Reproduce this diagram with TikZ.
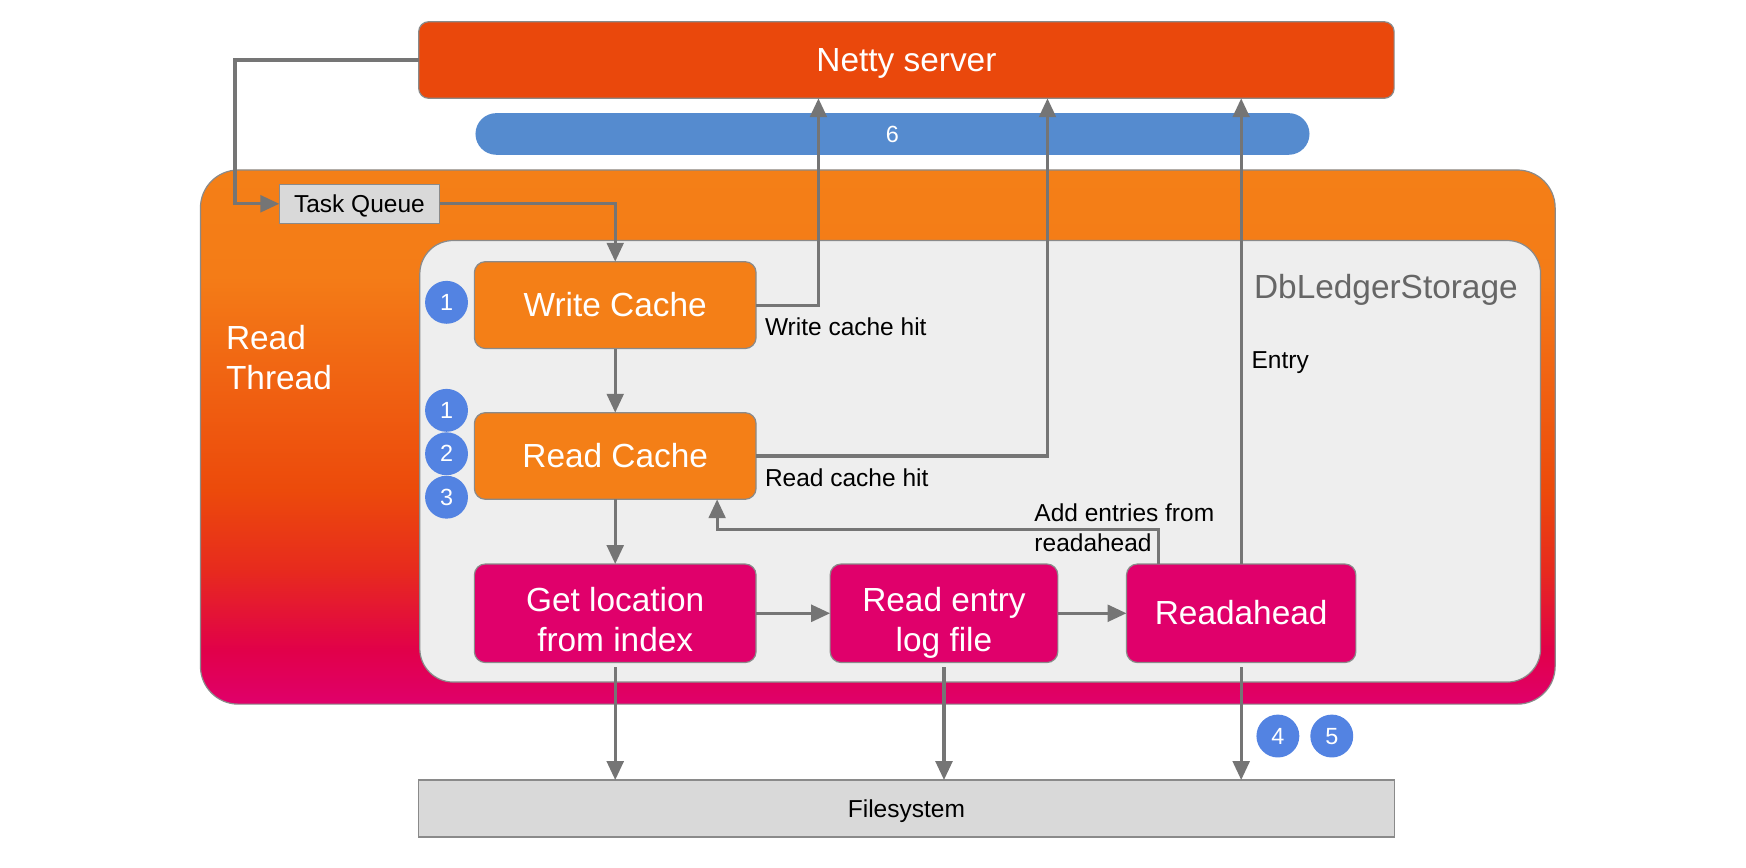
\documentclass[tikz,border=0pt]{standalone}
\usepackage{fontspec}
\setmainfont{Liberation Sans}
\usetikzlibrary{arrows.meta,calc}
\newlength\pxu
\setlength\pxu{1.11352pt}
\definecolor{netty}{HTML}{EA480C}
\definecolor{orng}{HTML}{F47F17}
\definecolor{mag}{HTML}{E0006B}
\definecolor{barc}{HTML}{558BCF}
\definecolor{circ}{HTML}{5383E2}
\definecolor{innerc}{HTML}{EEEEEE}
\definecolor{lgray}{HTML}{D9D9D9}
\definecolor{arrc}{HTML}{757575}
\definecolor{bline}{HTML}{8A8A8A}
\definecolor{dbtext}{HTML}{666666}
\definecolor{gA}{HTML}{E1004A}
\definecolor{gB}{HTML}{E72A1E}
\definecolor{gC}{HTML}{EC4A0B}
\definecolor{gD}{HTML}{F06212}
\definecolor{gE}{HTML}{F47C17}
\pgfdeclareverticalshading{rtshade}{100bp}{color(0bp)=(mag); color(25bp)=(mag); color(30bp)=(gA); color(37.5bp)=(gB); color(45bp)=(gC); color(55bp)=(gD); color(65bp)=(gE); color(75bp)=(orng); color(100bp)=(orng)}
\newcommand\fbig{\fontsize{33.4pt}{40pt}\selectfont}
\newcommand\fsm{\fontsize{24.5pt}{30.3pt}\selectfont}
\newcommand\fnum{\fontsize{23.4pt}{28pt}\selectfont}
\newcommand\gs{\rule[-0.212em]{0pt}{1.117em}}
\newcommand\gst{\rule{0pt}{1.306em}}
\tikzset{
  base/.style={inner sep=0pt, outer sep=0pt, align=center},
  cbox/.style={base, execute at begin node=\gs},
  procbox/.style={cbox, draw=bline, line width=1.2pt, rounded corners=11pt, text=white, font=\fbig},
  orangebox/.style={procbox, fill=orng},
  magbox/.style={procbox, fill=mag},
  graybox/.style={cbox, draw=bline, line width=1.2pt, fill=lgray, font=\fsm, text=black},
  numcirc/.style={cbox, circle, fill=circ, text=white, font=\fnum, minimum size=42.9pt},
  arr/.style={draw=arrc, line width=3.2pt, -{Triangle[length=18.9pt, width=16.7pt]}},
  lbl/.style={inner sep=0pt, outer sep=0pt, font=\fsm, text=black},
}
\begin{document}
\begin{tikzpicture}[x=\pxu, y={(0,-1.11352pt)}]
\useasboundingbox (0,0) rectangle (1568,779.5);
% containers
\node[base, draw=bline, line width=1.2pt, rounded corners=37.9pt, shade, shading=rtshade,
      minimum width=1216.6\pxu, minimum height=479.7\pxu] (rt) at (788.3,392.5) {};
\node[base, draw=bline, line width=1.2pt, rounded corners=33.4pt, fill=innerc,
      minimum width=1006.5\pxu, minimum height=396.5\pxu] (db) at (880.25,414.25) {};
\node[base, anchor=west, align=left, text=white, font=\fbig] (rtl) at (203,321.2) {Read\\Thread};
\node[base, anchor=base east, text=dbtext, font=\fbig] (dbl) at (1363,268) {DbLedgerStorage};
% top
\node[cbox, draw=bline, line width=1.2pt, rounded corners=10pt, fill=netty, text=white, font=\fbig,
      minimum width=876\pxu, minimum height=68.8\pxu] (netty) at (814,53.9) {Netty server};
\node[cbox, fill=barc, rounded corners=20.8pt, text=white, font=\fnum,
      minimum width=749\pxu, minimum height=37.4\pxu] (bar) at (801.5,120.3) {6};
% boxes
\node[graybox, minimum width=144\pxu, minimum height=35\pxu] (tq) at (322.8,183) {Task Queue};
\node[orangebox, minimum width=253\pxu, minimum height=78\pxu] (wc) at (552.5,274) {Write Cache};
\node[orangebox, minimum width=253\pxu, minimum height=77.8\pxu] (rc) at (552.5,409.5) {Read Cache};
\node[magbox, minimum width=253\pxu, minimum height=88.5\pxu] (gl) at (552.5,550.75) {\gst Get location\\\gs from index};
\node[magbox, minimum width=204.5\pxu, minimum height=88.5\pxu] (re) at (847.75,550.75) {\gst Read entry\\\gs log file};
\node[magbox, minimum width=206\pxu, minimum height=88.5\pxu] (ra) at (1114.65,550.75) {Readahead};
\node[graybox, minimum width=876\pxu, minimum height=51.2\pxu] (fs) at (814,726.1) {Filesystem};
% connectors
\draw[arr] (netty.west) -- ++(-165,0) |- (tq.west);
\draw[arr] (tq.east) -| (wc.north);
\draw[arr] (wc.east) -| ($(netty.south)+(-79,0)$);
\draw[arr] (wc.south) -- (rc.north);
\draw[arr] (rc.east) -| ($(netty.south)+(126.7,0)$);
\draw[arr] (rc.south) -- (gl.north);
\draw[arr] ($(ra.north)+(-74.3,0)$) -- ++(0,-31.1) -| ($(rc.south)+(91.5,0)$);
\draw[arr] (ra.north) -- (ra.north |- netty.south);
\draw[arr] (gl.east) -- (re.west);
\draw[arr] (re.east) -- (ra.west);
\draw[arr, shorten <=4.5pt] (gl.south) -- (gl.south |- fs.north);
\draw[arr, shorten <=4.5pt] (re.south) -- (re.south |- fs.north);
\draw[arr, shorten <=4.5pt] (ra.south) -- (ra.south |- fs.north);
% labels
\node[lbl, anchor=base west] (wch) at (687,301.5) {Write cache hit};
\node[lbl, anchor=base west] (rch) at (687,437) {Read cache hit};
\node[lbl, anchor=west, align=left] (aer) at (929,474) {Add entries from\\readahead};
\node[lbl, anchor=base west] (ent) at (1124,330.5) {Entry};
% step circles
\node[numcirc] (c1a) at (401,271.5) {1};
\node[numcirc] (c1b) at (401,368.5) {1};
\node[numcirc] (c2) at (401,407.5) {2};
\node[numcirc] (c3) at (401,446.5) {3};
\node[numcirc] (c4) at (1147.6,661) {4};
\node[numcirc] (c5) at (1196,661) {5};
\end{tikzpicture}
\end{document}
